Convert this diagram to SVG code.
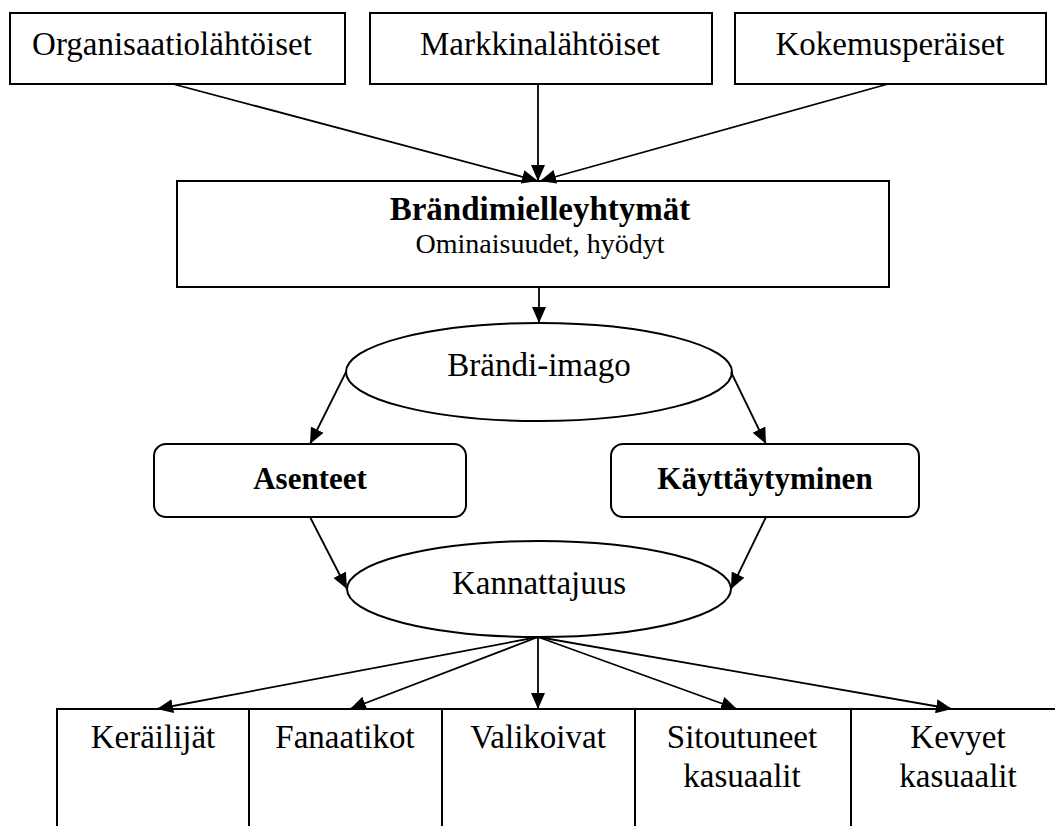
<svg xmlns="http://www.w3.org/2000/svg" width="1055" height="826" viewBox="0 0 1055 826">
  <style>
    .box { fill: #fff; stroke: #000; stroke-width: 2; }
    .t { font-family: "Liberation Serif", "Times New Roman", serif; font-size: 33px; fill: #000; text-anchor: middle; }
    .b { font-weight: bold; }
    .s { font-size: 28px; }
    .edge { fill: none; stroke: #000; stroke-width: 1.8; marker-end: url(#arrow); }
  </style>
  <defs>
    <marker id="arrow" markerUnits="userSpaceOnUse" markerWidth="17" markerHeight="14" refX="16" refY="7" orient="auto">
      <path d="M0,0 L16,7 L0,14 z" fill="#000"/>
    </marker>
  </defs>
  <rect width="1055" height="826" fill="#fff"/>

  <!-- source categories -->
  <g id="organisaatio">
    <rect class="box" x="10" y="13" width="335" height="71"/>
    <text class="t" x="172" y="55">Organisaatiolähtöiset</text>
  </g>
  <g id="markkina">
    <rect class="box" x="370" y="13" width="342" height="71"/>
    <text class="t" x="540" y="55">Markkinalähtöiset</text>
  </g>
  <g id="kokemus">
    <rect class="box" x="735" y="13" width="311" height="71"/>
    <text class="t" x="890" y="55">Kokemusperäiset</text>
  </g>

  <g id="mielleyhtymat">
    <rect class="box" x="177" y="181" width="712" height="106"/>
    <text class="t b" x="540" y="220">Brändimielleyhtymät</text>
    <text class="t s" x="540" y="253">Ominaisuudet, hyödyt</text>
  </g>

  <g id="imago">
    <ellipse class="box" cx="539" cy="372" rx="193" ry="49"/>
    <text class="t" x="539" y="376">Brändi-imago</text>
  </g>

  <g id="asenteet">
    <rect class="box" x="154" y="444" width="312" height="73" rx="12"/>
    <text class="t b" x="310" y="489" style="font-size:31px">Asenteet</text>
  </g>
  <g id="kayttaytyminen">
    <rect class="box" x="611" y="444" width="308" height="73" rx="12"/>
    <text class="t b" x="765" y="489" style="font-size:31px">Käyttäytyminen</text>
  </g>

  <g id="kannattajuus">
    <ellipse class="box" cx="539" cy="589" rx="192" ry="48"/>
    <text class="t" x="539" y="594">Kannattajuus</text>
  </g>

  <!-- fan segments, boxes run past the bottom edge -->
  <g id="kerailijat">
    <rect class="box" x="57" y="709" width="192" height="140"/>
    <text class="t" x="153" y="748">Keräilijät</text>
  </g>
  <g id="fanaatikot">
    <rect class="box" x="249" y="709" width="193" height="140"/>
    <text class="t" x="345" y="748">Fanaatikot</text>
  </g>
  <g id="valikoivat">
    <rect class="box" x="442" y="709" width="193" height="140"/>
    <text class="t" x="538" y="748">Valikoivat</text>
  </g>
  <g id="sitoutuneet">
    <rect class="box" x="635" y="709" width="216" height="140"/>
    <text class="t" x="742" y="748">Sitoutuneet</text>
    <text class="t" x="742" y="787">kasuaalit</text>
  </g>
  <g id="kevyet">
    <rect class="box" x="851" y="709" width="215" height="140"/>
    <text class="t" x="958" y="748">Kevyet</text>
    <text class="t" x="958" y="787">kasuaalit</text>
  </g>

  <g id="connectors">
    <line class="edge" x1="173" y1="84" x2="538" y2="181"/>
    <line class="edge" x1="538" y1="84" x2="538" y2="181"/>
    <line class="edge" x1="888" y1="84" x2="540" y2="181"/>
    <line class="edge" x1="539" y1="287" x2="539" y2="323"/>
    <line class="edge" x1="346" y1="372" x2="310" y2="444"/>
    <line class="edge" x1="731" y1="372" x2="766" y2="444"/>
    <line class="edge" x1="310" y1="517" x2="347" y2="589"/>
    <line class="edge" x1="766" y1="517" x2="731" y2="589"/>
    <line class="edge" x1="538" y1="637" x2="157" y2="709"/>
    <line class="edge" x1="538" y1="637" x2="350" y2="709"/>
    <line class="edge" x1="538" y1="637" x2="538" y2="709"/>
    <line class="edge" x1="538" y1="637" x2="737" y2="709"/>
    <line class="edge" x1="538" y1="637" x2="952" y2="709"/>
  </g>
</svg>
